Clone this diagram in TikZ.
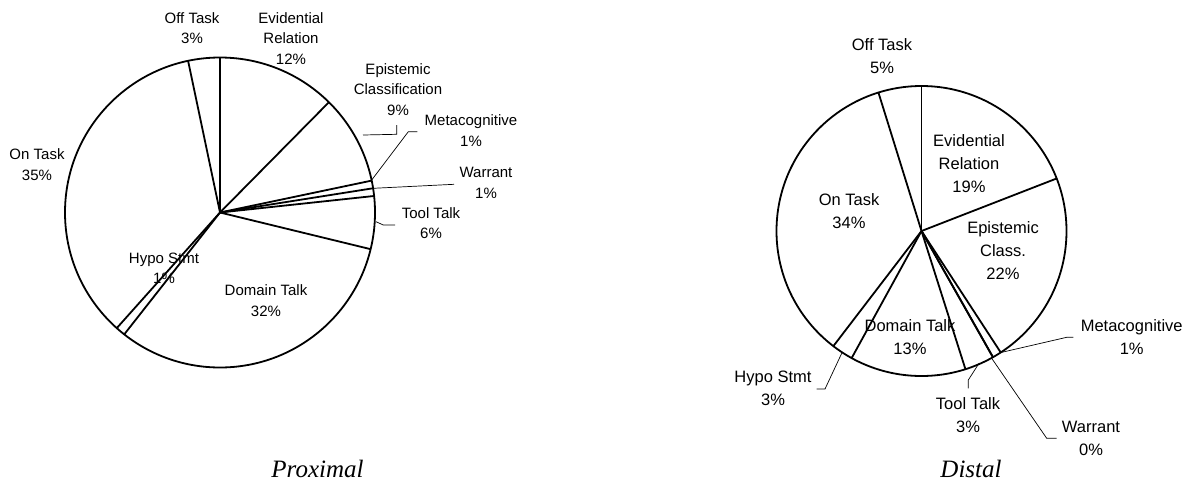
\documentclass[tikz,border=0pt]{standalone}
\usepackage{fontspec}
\setmainfont{Liberation Sans}
\newfontfamily\capfont{Liberation Serif}
\begin{document}
\begin{tikzpicture}[x=1pt,y=-1pt,
  pieline/.style={line width=1.8pt,line join=round},
  leader/.style={line width=0.7pt},
  lblL/.style={align=center,inner sep=0pt,font=\fontsize{15}{20.5}\selectfont},
  lblR/.style={align=center,inner sep=0pt,font=\fontsize{16.5}{23}\selectfont},
  captxt/.style={inner sep=0pt,anchor=base,font=\capfont\itshape\fontsize{25}{30}\selectfont}]
\useasboundingbox (0,0) rectangle (1191,485);
% ---------- Left pie (Proximal) ----------
\coordinate (cL) at (220,212.5);
\def\rL{155}
\draw[pieline] (cL) circle[radius=\rL];
\foreach \t in {0,44.64,78.12,81,83.88,103.68,218.16,221.76,348.12}{
  \draw[pieline] (cL) -- ++({\t-90}:\rL);
}
\node[lblL] (offL) at (192,28) {Off Task\\3\%};
\node[lblL] (evL) at (291,38.5) {Evidential\\Relation\\12\%};
\node[lblL] (epL) at (398,89.5) {Epistemic\\Classification\\9\%};
\node[lblL] (meL) at (471,130.5) {Metacognitive\\1\%};
\node[lblL] (waL) at (486,183) {Warrant\\1\%};
\node[lblL] (toL) at (431,223) {Tool Talk\\6\%};
\node[lblL] (doL) at (266,300.5) {Domain Talk\\32\%};
\node[lblL] (hyL) at (164,268.5) {Hypo Stmt\\1\%};
\node[lblL] (onL) at (37,164.5) {On Task\\35\%};
% leaders
\coordinate (epA) at (363,135); \coordinate (epB) at (396.7,134.3); \coordinate (epC) at (396.7,125);
\draw[leader] (epA) -- (epB) -- (epC);
\coordinate (meA) at (417.3,131.7); \coordinate (meB) at (408.3,131.7); \coordinate (meC) at (371.7,180);
\draw[leader] (meA) -- (meB) -- (meC);
\coordinate (waA) at (454,184.3); \coordinate (waC) at (373.3,188.3);
\draw[leader] (waA) -- (waC);
\coordinate (toA) at (395,225); \coordinate (toB) at (383.3,225); \coordinate (toC) at (376,221.7);
\draw[leader] (toA) -- (toB) -- (toC);
\node[captxt] (proximal) at (317.5,477) {Proximal};
% ---------- Right pie (Distal) ----------
\coordinate (cR) at (921.5,231);
\def\rR{145}
\draw[pieline] (cR) circle[radius=\rR];
\foreach \t in {0,68.76,146.88,150.48,150.48,162.36,208.8,217.44,342.72}{
  \draw[pieline] (cR) -- ++({\t-90}:\rR);
}
\node[lblR] (offR) at (882,56) {Off Task\\5\%};
\node[lblR] (evR) at (969,164) {Evidential\\Relation\\19\%};
\node[lblR] (epR) at (1003,250.3) {Epistemic\\Class.\\22\%};
\node[lblR] (meR) at (1131.7,337) {Metacognitive\\1\%};
\node[lblR] (waR) at (1091,438) {Warrant\\0\%};
\node[lblR] (toR) at (968,415) {Tool Talk\\3\%};
\node[lblR] (doR) at (910,337) {Domain Talk\\13\%};
\node[lblR] (hyR) at (773,388.3) {Hypo Stmt\\3\%};
\node[lblR] (onR) at (849,211) {On Task\\34\%};
% leaders
\coordinate (rmA) at (1073.3,337.3); \coordinate (rmB) at (1066.7,337.3); \coordinate (rmC) at (1000,352.7);
\draw[leader] (rmA) -- (rmB) -- (rmC);
\coordinate (rwA) at (1056.7,438.3); \coordinate (rwB) at (1046.7,438.3); \coordinate (rwC) at (991.7,358.3);
\draw[leader] (rwA) -- (rwB) -- (rwC);
\coordinate (rtA) at (968.3,388.3); \coordinate (rtB) at (968.3,380); \coordinate (rtC) at (979,363.3);
\draw[leader] (rtA) -- (rtB) -- (rtC);
\coordinate (rhA) at (816.7,389); \coordinate (rhB) at (825,389); \coordinate (rhC) at (841.7,353.3);
\draw[leader] (rhA) -- (rhB) -- (rhC);
\node[captxt] (distal) at (971,477) {Distal};
\end{tikzpicture}
\end{document}
